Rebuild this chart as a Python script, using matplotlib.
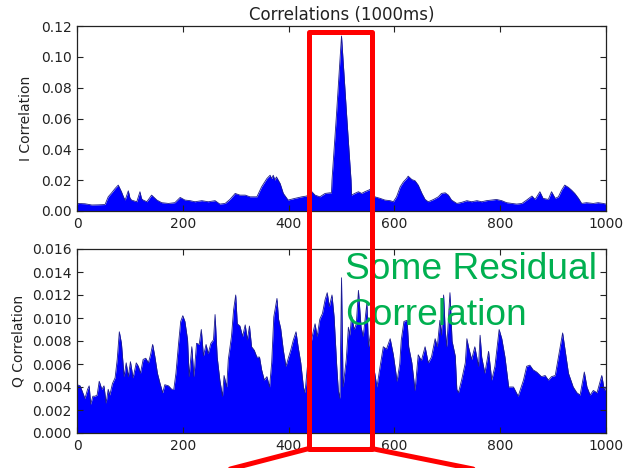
import matplotlib
matplotlib.use("Agg")
import matplotlib.pyplot as plt
from matplotlib.ticker import FormatStrFormatter
from matplotlib.patches import Rectangle
from matplotlib.lines import Line2D

# ---- data ----
i_lag = [0, 3, 15, 28, 40, 53, 59, 66, 72, 78, 84, 88, 91, 97, 100, 103, 113, 119, 122, 125,
         132, 141, 151, 160, 173, 185, 195, 204, 214, 223, 236, 248, 261, 270, 280, 289, 299,
         308, 318, 327, 340, 349, 359, 365, 368, 371, 374, 377, 384, 390, 399, 412, 425, 434,
         444, 450, 459, 469, 478, 481,
         482, 485, 490, 495, 500, 505, 510, 515, 518, 519,
         525, 532, 538, 544, 551, 557, 563, 573, 582, 592, 598, 604, 611, 617, 623, 626, 633,
         639, 645, 652, 658, 664, 674, 683, 689, 696, 702, 708, 718, 727, 737, 746, 756, 765,
         774, 784, 793, 803, 812, 822, 831, 841, 850, 860, 866, 875, 881, 891, 897, 904, 910,
         916, 922, 929, 935, 941, 948, 954, 963, 976, 985, 995, 1000]
i_corr = [0.0045, 0.0049, 0.0047, 0.0039, 0.0040, 0.0042, 0.0092, 0.0120, 0.0146, 0.0168,
          0.0125, 0.0090, 0.0071, 0.0131, 0.0085, 0.0071, 0.0060, 0.0125, 0.0080, 0.0071,
          0.0060, 0.0103, 0.0071, 0.0054, 0.0049, 0.0054, 0.0088, 0.0071, 0.0067, 0.0060,
          0.0067, 0.0060, 0.0067, 0.0045, 0.0049, 0.0075, 0.0114, 0.0103, 0.0103, 0.0092,
          0.0092, 0.0157, 0.0211, 0.0232, 0.0210, 0.0232, 0.0200, 0.0221, 0.0178, 0.0114,
          0.0071, 0.0082, 0.0092, 0.0097, 0.0125, 0.0103, 0.0092, 0.0114, 0.0118, 0.0118,
          0.020, 0.035, 0.060, 0.087, 0.1135, 0.087, 0.060, 0.035, 0.020, 0.0103,
          0.0114, 0.0125, 0.0114, 0.0125, 0.0135, 0.0146, 0.0092, 0.0082, 0.0071, 0.0067,
          0.0060, 0.0092, 0.0157, 0.0189, 0.0211, 0.0226, 0.0204, 0.0196, 0.0168, 0.0114,
          0.0075, 0.0060, 0.0075, 0.0092, 0.0114, 0.0118, 0.0103, 0.0071, 0.0049, 0.0056,
          0.0067, 0.0060, 0.0067, 0.0060, 0.0067, 0.0071, 0.0075, 0.0067, 0.0054, 0.0049,
          0.0045, 0.0049, 0.0071, 0.0097, 0.0075, 0.0125, 0.0082, 0.0075, 0.0125, 0.0082,
          0.0092, 0.0135, 0.0168, 0.0153, 0.0135, 0.0114, 0.0082, 0.0049, 0.0054, 0.0049,
          0.0054, 0.0049, 0.0045]

q_lag = [0, 6, 11, 15, 20, 23, 26, 30, 34, 38, 42, 47, 51, 55, 59, 62, 67, 72, 76, 80, 84,
         89, 93, 97, 101, 106, 112, 116, 120, 125, 130, 135, 139, 143, 147, 152, 157, 162,
         166, 173, 179, 183, 187, 192, 196, 200, 204, 209, 212, 217, 221, 226, 231, 235, 239,
         244, 248, 253, 258, 261, 265, 270, 275, 278, 283, 286, 292, 296, 300, 303, 308, 313,
         318, 322, 326, 330, 335, 340, 345, 349, 354, 359, 364, 368, 372, 378, 381, 385, 390,
         395, 400, 404, 409, 414, 418, 423, 428, 431, 437, 446, 450, 454, 459, 464, 469, 473,
         477, 482, 486, 491, 494, 497, 500, 503, 509, 513, 516, 519, 524, 528, 532, 537, 541,
         548, 551, 556, 560, 567, 573, 579, 585, 592, 598, 605, 610, 613, 618, 624, 627, 633,
         639, 645, 651, 658, 664, 670, 677, 681, 686, 689, 693, 696, 699, 705, 709, 715, 718,
         721, 727, 734, 737, 740, 746, 752, 759, 762, 765, 771, 778, 784, 790, 798, 803, 809,
         816, 825, 834, 844, 850, 856, 862, 869, 878, 885, 891, 897, 904, 910, 918, 923, 929,
         938, 945, 951, 959, 964, 970, 976, 983, 992, 997, 1000]
q_corr = [0.0042, 0.0041, 0.0035, 0.0030, 0.0038, 0.0041, 0.0025, 0.0032, 0.0032, 0.0033,
          0.0045, 0.0038, 0.0041, 0.0026, 0.0038, 0.0033, 0.0043, 0.0048, 0.0064, 0.0088,
          0.0078, 0.0049, 0.0061, 0.0049, 0.0062, 0.0048, 0.0061, 0.0058, 0.0052, 0.0064,
          0.0065, 0.0061, 0.0068, 0.0077, 0.0067, 0.0052, 0.0043, 0.0035, 0.0042, 0.0041,
          0.0038, 0.0038, 0.0052, 0.0078, 0.0097, 0.0102, 0.0097, 0.0081, 0.0049, 0.0075,
          0.0049, 0.0078, 0.0077, 0.0090, 0.0067, 0.0077, 0.0069, 0.0078, 0.0081, 0.0103,
          0.0066, 0.0046, 0.0032, 0.0050, 0.0040, 0.0064, 0.0084, 0.0107, 0.0120, 0.0095,
          0.0093, 0.0084, 0.0094, 0.0081, 0.0093, 0.0075, 0.0072, 0.0066, 0.0066, 0.0055,
          0.0046, 0.0049, 0.0040, 0.0061, 0.0101, 0.0117, 0.0099, 0.0091, 0.0072, 0.0058,
          0.0066, 0.0072, 0.0081, 0.0088, 0.0075, 0.0061, 0.0040, 0.0035, 0.0065, 0.0087,
          0.0095, 0.0084, 0.0099, 0.0104, 0.0116, 0.0122, 0.0110, 0.0120, 0.0101, 0.0058,
          0.0037, 0.0030, 0.0135, 0.0040, 0.0064, 0.0092, 0.0085, 0.0102, 0.0090, 0.0095,
          0.0124, 0.0092, 0.0084, 0.0113, 0.0075, 0.0090, 0.0060, 0.0040, 0.0058, 0.0075,
          0.0073, 0.0082, 0.0068, 0.0045, 0.0060, 0.0081, 0.0097, 0.0098, 0.0075, 0.0061,
          0.0037, 0.0068, 0.0063, 0.0075, 0.0061, 0.0066, 0.0082, 0.0075, 0.0098, 0.0085,
          0.0120, 0.0090, 0.0075, 0.0122, 0.0080, 0.0067, 0.0038, 0.0035, 0.0046, 0.0061,
          0.0082, 0.0075, 0.0064, 0.0075, 0.0058, 0.0085, 0.0066, 0.0052, 0.0071, 0.0046,
          0.0058, 0.0090, 0.0082, 0.0066, 0.0040, 0.0040, 0.0032, 0.0046, 0.0058, 0.0059,
          0.0055, 0.0053, 0.0049, 0.0050, 0.0046, 0.0049, 0.0050, 0.0066, 0.0087, 0.0071,
          0.0052, 0.0040, 0.0035, 0.0033, 0.0053, 0.0040, 0.0033, 0.0037, 0.0035, 0.0050,
          0.0037, 0.0040]

title = "Correlations (1000ms)"
x_ticks = [0, 200, 400, 600, 800, 1000]
i_ticks = [0.00, 0.02, 0.04, 0.06, 0.08, 0.10, 0.12]
q_ticks = [0.000, 0.002, 0.004, 0.006, 0.008, 0.010, 0.012, 0.014, 0.016]

W, H = 624, 468
fig = plt.figure(figsize=(W / 100, H / 100), dpi=100)
plt.rcParams['font.family'] = ['DejaVu Sans']

def fx(px):
    return px / W

def fy(py):
    return 1 - py / H

ax1 = fig.add_axes([fx(77), fy(211), fx(606) - fx(77), fy(26) - fy(211)])
ax2 = fig.add_axes([fx(77), fy(433), fx(606) - fx(77), fy(249) - fy(433)])

fill_c = '#0000ff'
edge_c = '#1c1c8c'
for ax, lag, vals, ticks, fmt, lab in [
        (ax1, i_lag, i_corr, i_ticks, '%.2f', 'I Correlation'),
        (ax2, q_lag, q_corr, q_ticks, '%.3f', 'Q Correlation')]:
    ax.fill_between(lag, vals, 0, color=fill_c, lw=0)
    ax.plot(lag, vals, color=edge_c, lw=0.6)
    ax.set_xlim(0, 1000)
    ax.set_ylim(ticks[0], ticks[-1])
    ax.set_xticks(x_ticks)
    ax.set_yticks(ticks)
    ax.yaxis.set_major_formatter(FormatStrFormatter(fmt))
    ax.tick_params(direction='in', top=True, right=True, labelsize=10,
                   length=4, width=0.8, colors='#222222', labelcolor='#222222', pad=4)
    ax.set_ylabel(lab, fontsize=10, color='#222222')
    for s in ax.spines.values():
        s.set_color('#222222')
        s.set_linewidth(0.9)

ax1.set_title(title, fontsize=12, color='#222222', pad=4)
ax1.yaxis.set_label_coords(-0.083, 0.5)
ax2.yaxis.set_label_coords(-0.098, 0.5)

# red highlight box and callout lines
red = '#ff0000'
rect = Rectangle((fx(309), fy(448.5)), fx(371.5) - fx(309), fy(31.5) - fy(448.5),
                 transform=fig.transFigure, fill=False, ec=red, lw=3.6,
                 joinstyle='round', zorder=10)
fig.add_artist(rect)
fig.add_artist(Line2D([fx(309), fx(215)], [fy(448.5), fy(473)], transform=fig.transFigure,
                      color=red, lw=3.6, solid_capstyle='round', zorder=10))
fig.add_artist(Line2D([fx(371.5), fx(478)], [fy(448.5), fy(470)], transform=fig.transFigure,
                      color=red, lw=3.6, solid_capstyle='round', zorder=10))

green = '#00b050'
fig.text(fx(345), fy(279), "Some Residual", fontsize=26.7, color=green,
         family='Liberation Sans', ha='left', va='baseline', zorder=5)
fig.text(fx(345), fy(325), "Correlation", fontsize=26.7, color=green,
         family='Liberation Sans', ha='left', va='baseline', zorder=5)

fig.savefig('out.png', dpi=100)
